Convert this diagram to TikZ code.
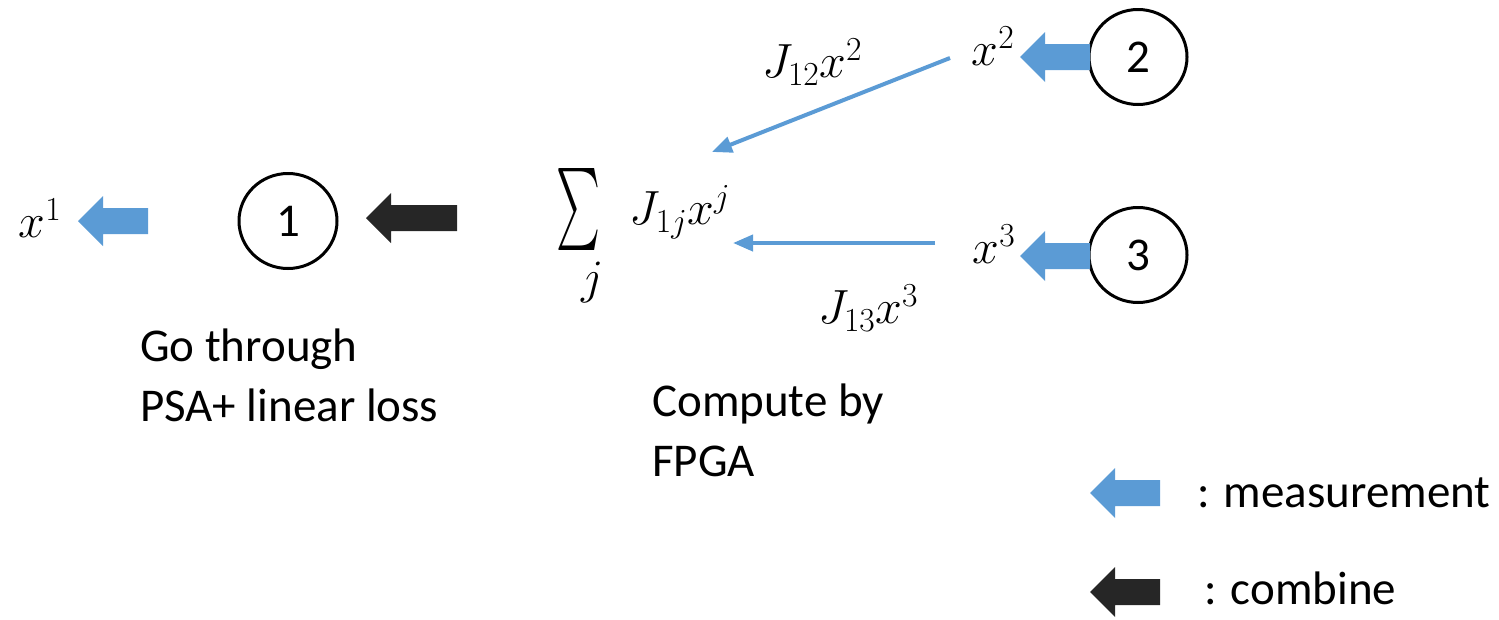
\RequirePackage{fix-cm}
\documentclass[tikz,border=0pt]{standalone}
\usepackage{graphicx}
\usepackage{fontspec}
\setmainfont{Carlito}
\usetikzlibrary{arrows.meta,shapes.geometric}
\definecolor{mblue}{HTML}{5B9BD5}
\definecolor{mdark}{HTML}{262626}
\tikzset{
  txt/.style={font=\fontsize{47}{60}\selectfont, inner sep=0pt},
  mth/.style={font=\fontsize{48}{56}\selectfont, inner sep=0pt},
  qubit/.style={draw=black, line width=3pt, ellipse, minimum width=98pt, minimum height=95pt, inner sep=0pt, font=\fontsize{47}{56}\selectfont},
  thin/.style={draw=mblue, line width=4pt, -{Triangle[length=20pt,width=16pt]}},
  pics/fatarrow/.style args={#1/#2}{code={
    \fill[#2] (0,0) -- (25,-25) -- (25,-13) -- (#1,-13) -- (#1,13) -- (25,13) -- (25,25) -- cycle;}}
}
\begin{document}
\begin{tikzpicture}[x=1pt,y=-1pt]
\useasboundingbox (0,0) rectangle (1499,619);
% nodes
\node[mth] (x1) at (40,218) {$x^1$};
\node[qubit] (q1) at (288,221) {1};
\node[qubit] (q2) at (1138,57) {2};
\node[qubit] (q3) at (1138,255) {3};
\node[mth] (x2) at (993,46) {$x^2$};
\node[mth] (x3) at (994,244) {$x^3$};
\node[inner sep=0pt] (sig) at (578,209) {\resizebox*{44pt}{82pt}{$\sum$}};
\node[mth] (sj) at (593,282) {$j$};
\node[mth] (sexp) at (680,212) {$J_{1j}x^j$};
\node[mth] (l12) at (812,62) {$J_{12}x^2$};
\node[mth] (l13) at (868,308) {$J_{13}x^3$};
\node[txt, anchor=west, align=left] (t1) at (140,375) {Go through\\PSA+ linear loss};
\node[txt, anchor=west, align=left] (t2) at (652,430) {Compute by\\FPGA};
\node[txt, anchor=west] (lm) at (1197,493) {: measurement};
\node[txt, anchor=west] (lc) at (1204,588) {: combine};
% fat arrows
\pic at (78,221) {fatarrow=70/mblue};
\pic at (366,218) {fatarrow=91/mdark};
\pic at (1020,57) {fatarrow=70/mblue};
\pic at (1020,256) {fatarrow=70/mblue};
\pic at (1090,493) {fatarrow=70/mblue};
\pic at (1090,592) {fatarrow=70/mdark};
% thin connectors
\coordinate (a2s) at (950,58);
\coordinate (a2e) at (712,152);
\coordinate (a3s) at (935,243);
\coordinate (a3e) at (733,243);
\draw[thin] (a2s) -- (a2e);
\draw[thin] (a3s) -- (a3e);
\end{tikzpicture}
\end{document}
